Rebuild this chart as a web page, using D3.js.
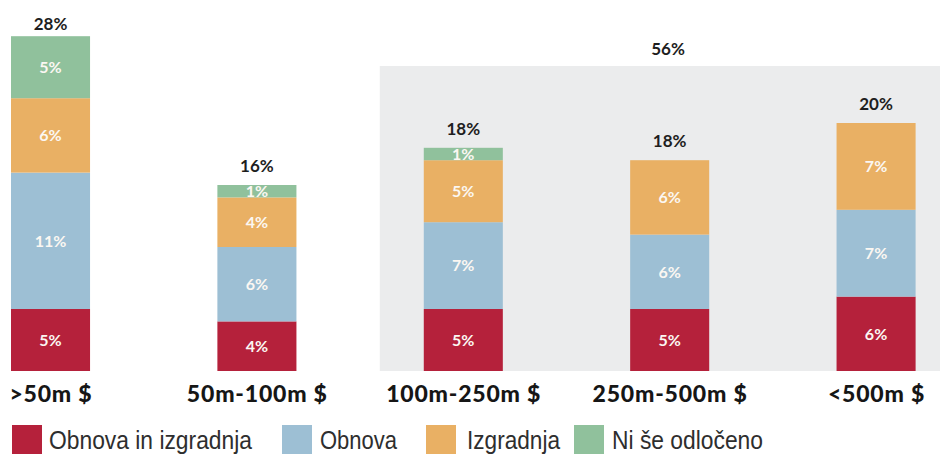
<!DOCTYPE html>
<html>
<head>
<meta charset="utf-8">
<script src="https://cdn.jsdelivr.net/npm/d3@7"></script>
<style>
  html, body { margin: 0; padding: 0; background: #ffffff; }
  svg { display: block; }
</style>
</head>
<body>
<svg id="chart" width="940" height="454"></svg>
<script>
// Investment size brackets
const categories = [">50m $", "50m-100m $", "100m-250m $", "250m-500m $", "<500m $"];

// Series (stack order, bottom to top)
const seriesNames = ["Obnova in izgradnja", "Obnova", "Izgradnja", "Ni še odločeno"];
const obnovaInIzgradnja = [5, 4, 5, 5, 6];
const obnova            = [11, 6, 7, 6, 7];
const izgradnja         = [6, 4, 5, 6, 7];
const niSeOdloceno      = [5, 1, 1, 0, 0];

// Stated totals per bracket and for the highlighted group of large brackets
const totals = [28, 16, 18, 18, 20];
const groupCategories = ["100m-250m $", "250m-500m $", "<500m $"];
const groupTotal = 56;

const colors = ["#b5213b", "#9dbfd4", "#e9b064", "#90c19c"];

const W = 940, H = 454;
const baseY = 371;

const svg = d3.select("#chart");

const rows = categories.map((c, i) => ({
  category: c,
  "Obnova in izgradnja": obnovaInIzgradnja[i],
  "Obnova": obnova[i],
  "Izgradnja": izgradnja[i],
  "Ni še odločeno": niSeOdloceno[i]
}));

const x = d3.scaleBand()
  .domain(categories)
  .range([11, 915.6])
  .paddingInner(0.617)
  .paddingOuter(0);

const y = d3.scaleLinear()
  .domain([0, 30])
  .range([baseY, baseY - 372]);

const color = d3.scaleOrdinal().domain(seriesNames).range(colors);

const stacked = d3.stack().keys(seriesNames)(rows);

// Shaded panel behind the large brackets
const gx0 = x(groupCategories[0]) - 44;
svg.append("rect")
  .attr("x", gx0)
  .attr("y", 66)
  .attr("width", W - gx0)
  .attr("height", baseY - 66)
  .attr("fill", "#ebeced");

svg.append("text")
  .attr("x", 668)
  .attr("y", 55)
  .attr("text-anchor", "middle")
  .attr("font-family", "Lato, 'Open Sans', sans-serif")
  .attr("font-weight", 700)
  .attr("font-size", 17)
  .attr("fill", "#1e1e1e")
  .text(groupTotal + "%");

// Stacked bars
const layers = svg.append("g").selectAll("g")
  .data(stacked)
  .join("g")
  .attr("fill", d => color(d.key));

layers.selectAll("rect")
  .data(d => d)
  .join("rect")
  .attr("x", d => x(d.data.category))
  .attr("width", x.bandwidth())
  .attr("y", d => y(d[1]))
  .attr("height", d => y(d[0]) - y(d[1]));

// Segment value labels
const segLabels = svg.append("g");
stacked.forEach(layer => {
  layer.forEach(d => {
    const v = d[1] - d[0];
    if (v <= 0) return;
    segLabels.append("text")
      .attr("x", x(d.data.category) + x.bandwidth() / 2)
      .attr("y", (y(d[0]) + y(d[1])) / 2)
      .attr("dy", "0.36em")
      .attr("text-anchor", "middle")
      .attr("font-family", "Lato, 'Open Sans', sans-serif")
      .attr("font-weight", 700)
      .attr("font-size", 16)
      .attr("fill", "#fbf7f2")
      .text(v + "%");
  });
});

// Bar totals
svg.append("g").selectAll("text")
  .data(categories)
  .join("text")
  .attr("x", c => x(c) + x.bandwidth() / 2)
  .attr("y", (c, i) => {
    const top = y(d3.sum(seriesNames, k => rows[i][k]));
    return Math.max(top - 13, 30);
  })
  .attr("text-anchor", "middle")
  .attr("font-family", "Lato, 'Open Sans', sans-serif")
  .attr("font-weight", 700)
  .attr("font-size", 17)
  .attr("fill", "#1e1e1e")
  .text((c, i) => totals[i] + "%");

// Category axis
const xAxis = svg.append("g")
  .attr("transform", `translate(0,${baseY})`)
  .call(d3.axisBottom(x).tickSize(0).tickPadding(15));
xAxis.select(".domain").remove();
xAxis.selectAll("text")
  .attr("dy", "0.71em")
  .attr("dx", "0.4")
  .attr("font-family", "Lato, 'Open Sans', sans-serif")
  .attr("font-weight", 900)
  .attr("font-size", 23)
  .attr("letter-spacing", 0.8)
  .attr("fill", "#161616");

// Legend
const legendItems = [
  { box: 12, text: 49, len: 203 },
  { box: 282, text: 320, len: 77 },
  { box: 426, text: 467, len: 93 },
  { box: 574, text: 612, len: 151 }
];
const legend = svg.append("g");
seriesNames.forEach((name, i) => {
  const it = legendItems[i];
  legend.append("rect")
    .attr("x", it.box)
    .attr("y", 425)
    .attr("width", 30)
    .attr("height", 32)
    .attr("fill", color(name));
  legend.append("text")
    .attr("x", it.text)
    .attr("y", 449)
    .attr("font-family", "'Liberation Sans Narrow', 'Liberation Sans', Arial, sans-serif")
    .attr("font-size", 25)
    .attr("fill", "#2e2e2e")
    .attr("textLength", it.len)
    .attr("lengthAdjust", "spacingAndGlyphs")
    .text(name);
});
</script>
</body>
</html>
